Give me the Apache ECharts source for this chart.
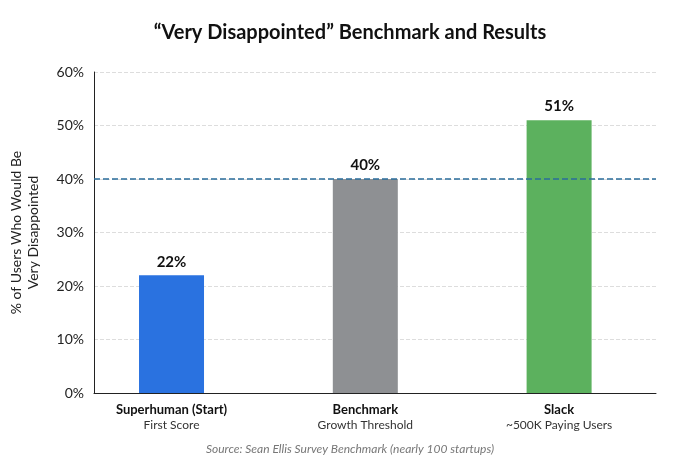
<!DOCTYPE html><html><head><meta charset="utf-8">
<script src="https://cdn.jsdelivr.net/npm/echarts@6/dist/echarts.min.js"></script>
<style>html,body{margin:0;background:#fff}#c{width:700px;height:467px}</style></head>
<body><div id="c"></div><script>
const categories=['Superhuman (Start)','Benchmark','Slack'];
const subtitles=['First Score','Growth Threshold','~500K Paying Users'];
const values=[22,40,51];
const colors=['#2a72e0','#8e9093','#5cb15e'];
const benchmark=40;
const chart=echarts.init(document.getElementById('c'));
chart.setOption({
 backgroundColor:'#fff',
 textStyle:{fontFamily:'Lato, Roboto, sans-serif'},
 title:{text:'\u201cVery Disappointed\u201d Benchmark and Results',left:'center',top:18,textStyle:{fontSize:20,fontWeight:'bold',color:'#111'}},
 graphic:[{type:'text',left:'center',top:443,style:{text:'Source: Sean Ellis Survey Benchmark (nearly 100 startups)',font:'italic 12px Lato, sans-serif',fill:'#777'}}],
 grid:{left:88,right:44,top:72,bottom:74},
 xAxis:{type:'value',min:-0.4,max:2.5,splitLine:{show:false},axisLine:{show:true,onZero:false,lineStyle:{color:'#222'}},axisTick:{show:false},
  axisLabel:{customValues:[0,1,2],margin:8,formatter:v=>'{a|'+categories[v]+'}\n{b|'+subtitles[v]+'}',
   rich:{a:{fontSize:13,fontWeight:'bold',color:'#111',lineHeight:17},b:{fontSize:12,color:'#333',lineHeight:15}}}},
 yAxis:{type:'value',min:0,max:60,interval:10,axisLine:{show:true,onZero:false,lineStyle:{color:'#222'}},axisTick:{show:false},
  axisLabel:{formatter:'{value}%',fontSize:14,color:'#222',margin:10},
  splitLine:{lineStyle:{type:'dashed',color:'#ddd'}},
  name:'% of Users Who Would Be\nVery Disappointed',nameLocation:'middle',nameGap:52,nameTextStyle:{fontSize:14,color:'#222',lineHeight:17}},
 series:[{type:'bar',barWidth:65,
  data:values.map((v,i)=>({value:[i,v],itemStyle:{color:colors[i]}})),
  label:{show:true,position:'top',distance:6,formatter:p=>p.value[1]+'%',fontSize:15,fontWeight:'bold',color:'#111'},
  markLine:{silent:true,symbol:'none',label:{show:false},lineStyle:{type:'dashed',color:'#2a6c9a',width:1.5},data:[{yAxis:benchmark}]}}]
});
</script></body></html>
